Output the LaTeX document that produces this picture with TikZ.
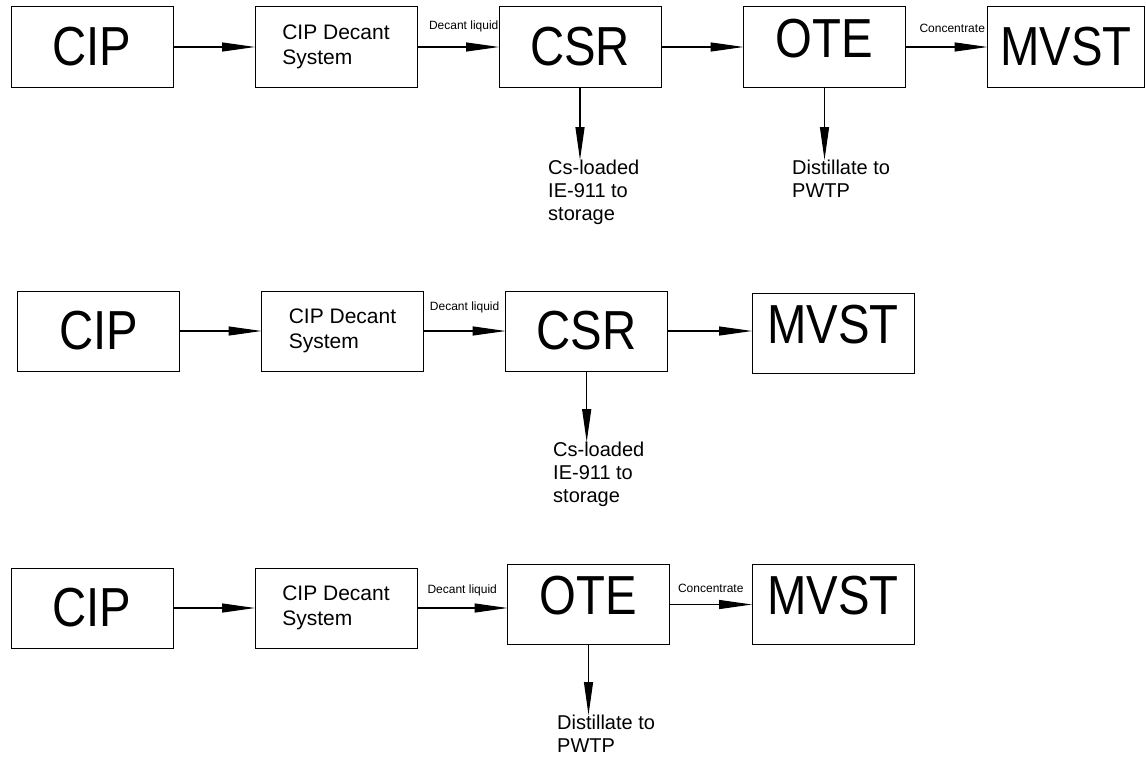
\documentclass[tikz,border=0pt]{standalone}
\usepackage{fontspec}
\setmainfont{Liberation Sans}
\newfontfamily\bigfont[FakeStretch=0.86]{Liberation Sans}
\usetikzlibrary{arrows.meta,positioning}

\begin{document}
\begin{tikzpicture}[x=1pt,y=-1pt,
    every edge/.style={draw,line width=1.2pt,-{Triangle[length=33pt,width=9pt]}},
    unit/.style={draw,line width=1pt,minimum width=162pt,minimum height=80pt,inner sep=0pt,outer sep=0pt},
    big/.style={font=\bigfont\fontsize{55}{60}\selectfont},
    mid/.style={font=\fontsize{21}{25}\selectfont,align=left},
    outlet/.style={font=\fontsize{20}{23}\selectfont,align=left,inner sep=0pt,anchor=north west},
    tag/.style={font=\fontsize{12}{14}\selectfont,inner sep=0pt},
    lift/.style={text depth=18pt}]

        \useasboundingbox (0,0) rectangle (1146,760);

        \begin{scope}[every node/.style={unit}]
          \node[big] (cip1)  at (92,47)    {CIP};
          \node[mid] (dec1)  at (336,47)   {CIP Decant\\System};
          \node[big] (csr1)  at (580,47)   {CSR};
          \node[big,lift] (ote1)  at (824.5,47) {OTE};
          \node[big,minimum width=157pt] (mvst1) at (1066,47) {MVST};

          \node[big] (cip2)  at (98.5,331) {CIP};
          \node[mid] (dec2)  at (342.5,331) {CIP Decant\\System};
          \node[big] (csr2)  at (586.7,331) {CSR};
          \node[big,lift] (mvst2) at (833,333) {MVST};

          \node[big] (cip3)  at (92,608)   {CIP};
          \node[mid] (dec3)  at (336,608)  {CIP Decant\\System};
          \node[big,lift] (ote3)  at (588.5,604.5) {OTE};
          \node[big,lift] (mvst3) at (833,604.5) {MVST};
        \end{scope}

        \node[outlet] (store1) at (548,160) {Cs-loaded\\IE-911 to\\storage};
        \node[outlet] (dist1)  at (792,160) {Distillate to\\PWTP};
        \node[outlet] (store2) at (553,442) {Cs-loaded\\IE-911 to\\storage};
        \node[outlet] (dist3)  at (557,715) {Distillate to\\PWTP};

        \path (cip1.east) edge (cip1.east -| dec1.west);
        \path (dec1.east) edge node[tag,above=14pt,pos=.57] {Decant liquid} (dec1.east -| csr1.west);
        \path (csr1.east) edge (csr1.east -| ote1.west);
        \path (ote1.east) edge node[tag,above=14pt,pos=.57] {Concentrate} (ote1.east -| mvst1.west);
        \path (csr1.south) edge (csr1.south |- store1.north);
        \path (ote1.south) edge (ote1.south |- dist1.north);

        \path (cip2.east) edge (cip2.east -| dec2.west);
        \path (dec2.east) edge node[tag,above=17pt] {Decant liquid} (dec2.east -| csr2.west);
        \path (csr2.east) edge (csr2.east -| mvst2.west);
        \path (csr2.south) edge (csr2.south |- store2.north);

        \path (cip3.east) edge (cip3.east -| dec3.west);
        \path (dec3.east) edge node[tag,above=11pt] {Decant liquid} (dec3.east -| ote3.west);
        \path (ote3.east) edge node[tag,above=11pt] {Concentrate} (ote3.east -| mvst3.west);
        \path (ote3.south) edge (ote3.south |- dist3.north);

      \end{tikzpicture}
\end{document}
